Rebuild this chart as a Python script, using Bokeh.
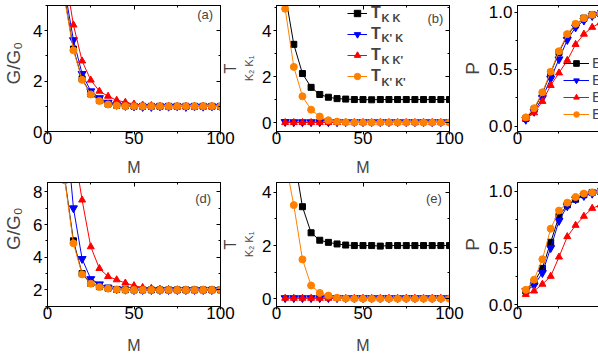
from bokeh.plotting import figure
from bokeh.models import (LinearAxis, SingleIntervalTicker, Range1d, Label,
                          Legend, LegendItem, Title, PrintfTickFormatter)
from bokeh.layouts import row, column
from bokeh.embed import file_html
from bokeh.resources import INLINE

FONT = "Liberation Sans"
NB = "\u00a0"

# ---------------- data ----------------
M = [5, 10, 15, 20, 25, 30, 35, 40, 45, 50, 55, 60, 65, 70, 75, 80, 85, 90, 95, 100]
E = [0.5, 1.0, 1.5, 2.0, 2.5, 3.0, 3.5, 4.0, 4.5, 5.0]

# (a) G/G0 vs M
G_a_black = [12.0, 5.3, 3.27, 2.09, 1.49, 1.24, 1.09, 1.04, 1.02, 1.0, 1.0, 1.0, 1.0, 1.0, 1.0, 1.0, 1.0, 1.0, 1.0, 1.0]
G_a_blue = [13.5, 5.6, 3.63, 2.29, 1.6, 1.33, 1.15, 1.06, 1.02, 1.0, 0.98, 0.98, 1.0, 0.99, 1.0, 0.98, 1.0, 0.99, 1.0, 0.99]
G_a_red = [15.0, 6.3, 4.23, 2.8, 2.04, 1.6, 1.4, 1.24, 1.16, 1.09, 1.05, 1.03, 1.01, 1.0, 1.0, 1.0, 1.0, 1.0, 1.0, 1.0]
G_a_orange = [12.0, 5.2, 3.22, 2.05, 1.47, 1.21, 1.07, 1.03, 1.01, 1.0, 1.0, 1.0, 1.0, 1.0, 1.0, 1.0, 1.0, 1.0, 1.0, 1.0]

# (b) T vs M
T_b_KK = [5.6, 3.4, 2.13, 1.53, 1.22, 1.1, 1.04, 1.02, 1.0, 1.0, 0.99, 1.0, 1.0, 1.0, 1.0, 1.0, 1.0, 1.0, 1.0, 1.0]
T_b_KpK = [0.03, 0.02, 0.02, 0.02, 0.02, 0.02, 0.02, 0.02, 0.02, 0.02, 0.02, 0.02, 0.02, 0.02, 0.02, 0.02, 0.02, 0.02, 0.02, 0.02]
T_b_KKp = [0.0, 0.0, 0.0, 0.0, 0.0, 0.0, 0.0, 0.0, 0.0, 0.0, 0.0, 0.0, 0.0, 0.0, 0.0, 0.0, 0.0, 0.0, 0.0, 0.0]
T_b_KpKp = [4.95, 2.42, 1.14, 0.56, 0.26, 0.1, 0.04, 0.01, 0.0, 0.0, 0.0, 0.0, 0.0, 0.0, 0.0, 0.0, 0.0, 0.0, 0.0, 0.0]

# (c) P vs E
P_c_black = [0.07, 0.15, 0.29, 0.47, 0.65, 0.80, 0.89, 0.95, 0.98, 0.99]
P_c_blue = [0.06, 0.13, 0.25, 0.42, 0.59, 0.76, 0.87, 0.93, 0.97, 0.98]
P_c_red = [0.07, 0.12, 0.22, 0.36, 0.47, 0.58, 0.72, 0.81, 0.87, 0.91]
P_c_orange = [0.08, 0.16, 0.30, 0.48, 0.66, 0.81, 0.90, 0.95, 0.98, 0.99]
E_labels = ["E1", "E2", "E3", "E4"]

# (d) G/G0 vs M
G_d_black = [14.0, 8.8, 5.0, 3.0, 2.4, 2.2, 2.1, 2.03, 2.01, 2.0, 2.0, 2.0, 2.0, 2.0, 2.0, 2.0, 2.0, 2.0, 2.0, 2.0]
G_d_blue = [17.0, 12.8, 7.0, 3.9, 2.67, 2.35, 2.15, 2.05, 2.02, 2.0, 2.0, 2.0, 2.0, 2.0, 2.0, 2.0, 2.0, 2.0, 2.0, 2.0]
G_d_red = [20.0, 15.0, 10.8, 7.5, 4.64, 3.31, 2.82, 2.62, 2.42, 2.26, 2.15, 2.1, 2.05, 2.03, 2.01, 2.0, 2.0, 2.0, 2.0, 2.0]
G_d_orange = [13.5, 8.7, 4.85, 2.95, 2.38, 2.18, 2.08, 2.02, 2.0, 2.0, 2.0, 2.0, 2.0, 2.0, 2.0, 2.0, 2.0, 2.0, 2.0, 2.0]

# (e) T vs M
T_e_KK = [7.5, 5.4, 3.46, 2.48, 2.2, 2.12, 2.06, 2.02, 2.0, 2.0, 2.0, 1.98, 2.0, 2.0, 2.0, 2.0, 2.0, 2.0, 2.0, 2.0]
T_e_KpK = [0.03, 0.03, 0.03, 0.03, 0.03, 0.03, 0.03, 0.03, 0.03, 0.03, 0.03, 0.03, 0.03, 0.03, 0.03, 0.03, 0.03, 0.03, 0.03, 0.03]
T_e_KKp = [0.02, 0.02, 0.02, 0.02, 0.02, 0.02, 0.02, 0.02, 0.02, 0.02, 0.02, 0.02, 0.02, 0.02, 0.02, 0.02, 0.02, 0.02, 0.02, 0.02]
T_e_KpKp = [5.2, 3.52, 1.48, 0.5, 0.22, 0.12, 0.04, 0.01, 0.0, 0.0, 0.0, 0.0, 0.0, 0.0, 0.0, 0.0, 0.0, 0.0, 0.0, 0.0]

# (f) P vs E
P_f_black = [0.12, 0.20, 0.32, 0.55, 0.78, 0.88, 0.93, 0.97, 0.99, 1.0]
P_f_blue = [0.12, 0.17, 0.28, 0.50, 0.74, 0.87, 0.93, 0.96, 0.98, 0.99]
P_f_red = [0.09, 0.12, 0.18, 0.25, 0.42, 0.60, 0.70, 0.78, 0.85, 0.88]
P_f_orange = [0.13, 0.22, 0.40, 0.67, 0.83, 0.90, 0.95, 0.98, 0.99, 1.0]

T_legend_subs = ["K K", "K' K", "K K'", "K' K'"]
panel_tags = ["(a)", "(b)", "(d)", "(e)"]

BLACK, BLUE, RED, ORANGE = "#000000", "#0000FF", "#FF0000", "#FF8000"
STYLES = [(BLACK, "square", 6), (BLUE, "inverted_triangle", 8),
          (RED, "triangle", 7), (ORANGE, "circle", 7)]


def make_panel(xr, yr, w, h, bl, br, bt, bb, xint, yint, shift=0,
               xlabel=None, xlabel_standoff=12, ylabel=None, ylabel_size="19px",
               ylabel_standoff=6, boxed=True, yfmt=None):
    p = figure(x_range=Range1d(*xr), y_range=Range1d(*yr), width=w, height=h,
               min_border_left=bl, min_border_right=br,
               min_border_top=bt, min_border_bottom=bb,
               x_axis_type=None, y_axis_type=None,
               output_backend="svg", toolbar_location=None,
               margin=(0, 0, 0, shift))
    p.outline_line_color = "black" if boxed else None
    p.outline_line_width = 1
    p.background_fill_color = "white"
    p.border_fill_color = None
    xt = SingleIntervalTicker(interval=xint, num_minor_ticks=2)
    yt = SingleIntervalTicker(interval=yint, num_minor_ticks=2)

    xb = LinearAxis(ticker=xt, major_tick_out=3, major_tick_in=0,
                    minor_tick_out=2, minor_tick_in=0, major_label_standoff=-3,
                    major_label_text_font=FONT, major_label_text_font_size="17px",
                    major_label_text_color="black")
    if xlabel:
        xb.axis_label = xlabel
        xb.axis_label_text_font = FONT
        xb.axis_label_text_font_size = "16px"
        xb.axis_label_text_font_style = "normal"
        xb.axis_label_standoff = xlabel_standoff
    p.add_layout(xb, "below")

    yl = LinearAxis(ticker=yt, major_tick_out=3, major_tick_in=0,
                    minor_tick_out=2, minor_tick_in=0, major_label_standoff=2,
                    major_label_text_font=FONT, major_label_text_font_size="17px",
                    major_label_text_color="black")
    if yfmt is not None:
        yl.formatter = yfmt
    if ylabel:
        yl.axis_label = ylabel
        yl.axis_label_text_font = FONT
        yl.axis_label_text_font_size = ylabel_size
        yl.axis_label_text_font_style = "normal"
        yl.axis_label_standoff = ylabel_standoff
    p.add_layout(yl, "left")

    xa = LinearAxis(ticker=xt, major_tick_out=0, major_tick_in=4,
                    minor_tick_out=0, minor_tick_in=2, major_label_standoff=0,
                    major_label_text_font_size="1px", major_label_text_color=None)
    p.add_layout(xa, "above")
    if boxed:
        ya = LinearAxis(ticker=yt, major_tick_out=0, major_tick_in=4,
                        minor_tick_out=0, minor_tick_in=2, major_label_standoff=0,
                        major_label_text_font_size="1px", major_label_text_color=None)
        p.add_layout(ya, "right")
    p.xgrid.visible = False
    p.ygrid.visible = False
    return p


def add_series(p, x, ys):
    out = []
    for y, (c, mk, sz) in zip(ys, STYLES):
        l = p.line(x, y, line_color=c, line_width=1)
        s = p.scatter(x, y, marker=mk, size=sz, fill_color=c, line_color=c)
        out.append([l, s])
    return out


def tag(p, x, y, text):
    p.add_layout(Label(x=x, y=y, text=text, text_font=FONT, text_font_size="13px",
                       text_align="center", text_baseline="middle"))


def left_title(p, text, size, offset, standoff):
    p.add_layout(Title(text=text, align="center", offset=offset, standoff=standoff,
                       text_font=FONT, text_font_size=size, text_font_style="normal"),
                 "left")


def t_label(p, sub_offset, t_offset):
    left_title(p, "K\u2082 K\u2081", "11px", sub_offset, 10)
    left_title(p, "T", "16px", t_offset, -7)


# widths: (a) canvas 0-240, (b) 223-465, (c) 458-598 (overlapping transparent borders)
# ---------------- row 1 ----------------
pa = make_panel((0, 100), (0, 5), 240, 179, 45, 20, 5, 48, 50, 2, xlabel="M",
                ylabel=NB * 2 + "G/G\u2080", ylabel_standoff=6)
add_series(pa, M, [G_a_black, G_a_blue, G_a_red, G_a_orange])
tag(pa, 91.1, 4.65, panel_tags[0])

pb = make_panel((0, 100), (-0.39, 5.09), 242, 179, 53, 16, 5, 48, 50, 2, shift=-17,
                xlabel="M")
t_label(pb, -23, -3)
rb = add_series(pb, M, [T_b_KK, T_b_KpK, T_b_KKp, T_b_KpKp])
tag(pb, 91.9, 4.52, panel_tags[1])
legb = Legend(items=[LegendItem(label="T", renderers=r) for r in rb],
              location=(71, 46), orientation="vertical", padding=0, margin=0,
              spacing=3, glyph_width=20, glyph_height=16, label_height=16,
              label_standoff=4, label_text_font=FONT, label_text_font_size="16px",
              label_text_font_style="bold", border_line_color=None,
              background_fill_alpha=0)
pb.add_layout(legb)
for sub, yv in zip(T_legend_subs, [4.56, 3.68, 2.73, 1.75]):
    pb.add_layout(Label(x=60.7, y=yv, text=sub, text_font=FONT, text_font_size="11px",
                        text_font_style="bold", text_align="left", text_baseline="middle"))

pc = make_panel((0, 4.88), (-0.044, 1.061), 140, 179, 58, 0, 5, 48, 5, 0.5, shift=-7,
                ylabel="P", ylabel_size="19px", ylabel_standoff=3, boxed=False,
                yfmt=PrintfTickFormatter(format="%.1f"))
rc = add_series(pc, E, [P_c_black, P_c_blue, P_c_red, P_c_orange])
legc = Legend(items=[LegendItem(label=lab, renderers=r) for lab, r in zip(E_labels, rc)],
              location=(46, 9), orientation="vertical", padding=0, margin=0,
              spacing=0, glyph_width=26, glyph_height=14, label_height=14,
              label_standoff=3, label_text_font=FONT, label_text_font_size="15px",
              border_line_color=None, background_fill_alpha=0)
pc.add_layout(legc)

# ---------------- row 2 ----------------
pd_ = make_panel((0, 100), (0.985, 8.57), 240, 177, 45, 20, 3, 47, 50, 2, xlabel="M",
                 xlabel_standoff=15, ylabel=NB * 6 + "G/G\u2080", ylabel_standoff=6)
add_series(pd_, M, [G_d_black, G_d_blue, G_d_red, G_d_orange])
tag(pd_, 90.0, 7.615, panel_tags[2])

pe = make_panel((0, 100), (-0.29, 4.37), 242, 177, 53, 16, 3, 47, 50, 2, shift=-17,
                xlabel="M", xlabel_standoff=15)
t_label(pe, -28, -3)
add_series(pe, M, [T_e_KK, T_e_KpK, T_e_KKp, T_e_KpKp])
tag(pe, 91.0, 3.78, panel_tags[3])

pf = make_panel((0, 4.88), (-0.017, 1.078), 140, 177, 58, 0, 3, 47, 5, 0.5, shift=-7,
                ylabel="P", ylabel_size="19px", ylabel_standoff=3, boxed=False,
                yfmt=PrintfTickFormatter(format="%.1f"))
add_series(pf, E, [P_f_black, P_f_blue, P_f_red, P_f_orange])

layout = column(row(pa, pb, pc), row(pd_, pe, pf))

open("out.html", "w").write(file_html(layout, INLINE))
